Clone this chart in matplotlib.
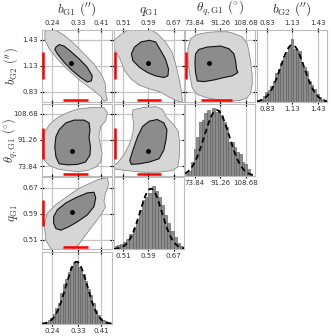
import numpy as np
import matplotlib
matplotlib.use('Agg')
import matplotlib.pyplot as plt
import matplotlib.transforms as mtransforms
from matplotlib.patches import Polygon

plt.rcParams['mathtext.fontset'] = 'cm'
plt.rcParams['font.family'] = 'DejaVu Sans'

# parameter axes: limits, ticks, tick labels, true-value ranges (red bars)
bg1_lim = (0.206, 0.447)
bg1_ticks = [0.24, 0.33, 0.41]
bg1_ticklabels = ['0.24', '0.33', '0.41']
bg1_range = [0.277, 0.365]

q_lim = (0.481, 0.703)
q_ticks = [0.51, 0.59, 0.67]
q_ticklabels = ['0.51', '0.59', '0.67']
q_range = [0.553, 0.631]

th_lim = (67.3, 115.1)
th_ticks = [73.84, 91.26, 108.68]
th_ticklabels = ['73.84', '91.26', '108.68']
th_range = [78.5, 99.2]

bg2_lim = (0.713, 1.54)
bg2_ticks = [0.83, 1.13, 1.43]
bg2_ticklabels = ['0.83', '1.13', '1.43']
bg2_range = [0.98, 1.29]

# histograms (first bin edge, bin width, heights), gaussian fit, y top
bg1_hist_lo, bg1_hist_w = 0.2094, 0.0085
bg1_hist = [3, 6, 12, 18, 30, 45, 60, 90, 115, 130, 150, 165, 180, 182,
            165, 155, 145, 125, 100, 85, 60, 40, 25, 17, 12, 8, 5, 2]
bg1_fit = (0.325, 0.037, 180)
bg1_htop = 208

q_hist_lo, q_hist_w = 0.48, 0.01
q_hist = [3, 4, 5, 7, 10, 15, 22, 30, 40, 50, 53, 58, 65, 60, 53, 45,
          35, 27, 18, 12, 6, 3]
q_fit = (0.598, 0.035, 62)
q_htop = 74

th_hist_lo, th_hist_w = 67.7, 1.82
th_hist = [8, 15, 40, 80, 115, 160, 165, 185, 195, 180, 200, 190, 195,
           180, 160, 145, 100, 100, 85, 70, 65, 40, 35, 20, 5]
th_fit = (89.0, 8.5, 195)
th_htop = 213

bg2_hist_lo, bg2_hist_w = 0.72, 0.03
bg2_hist = [5, 10, 18, 30, 35, 48, 62, 88, 100, 118, 140, 150, 165, 190,
            160, 158, 155, 120, 105, 92, 62, 52, 38, 24, 16, 9, 4]
bg2_fit = (1.13, 0.14, 172)
bg2_htop = 217

# 2D credible regions (outer = 95%, inner = 68%), best fit point
bg1_bg2_outer_x = [0.216, 0.231, 0.259, 0.282, 0.316, 0.351, 0.385, 0.413, 0.425,
                   0.425, 0.431, 0.419, 0.408, 0.379, 0.339, 0.299, 0.259, 0.231, 0.216]
bg1_bg2_outer_y = [1.52, 1.551, 1.527, 1.481, 1.383, 1.266, 1.149, 1.013, 0.916,
                   0.818, 0.733, 0.721, 0.779, 0.857, 0.955, 1.072, 1.208, 1.325, 1.422]
bg1_bg2_inner_x = [0.254, 0.265, 0.282, 0.305, 0.334, 0.362, 0.379, 0.376, 0.362,
                   0.339, 0.311, 0.282, 0.259, 0.250]
bg1_bg2_inner_y = [1.344, 1.372, 1.356, 1.294, 1.208, 1.111, 1.013, 0.955, 0.943,
                   0.994, 1.072, 1.169, 1.266, 1.317]
bg1_bg2_best = (0.307, 1.157)

q_bg2_outer_x = [0.481, 0.500, 0.525, 0.562, 0.593, 0.618, 0.644, 0.665, 0.675,
                 0.683, 0.691, 0.696, 0.698, 0.685, 0.660, 0.629, 0.593, 0.562,
                 0.536, 0.515, 0.500, 0.484, 0.481]
q_bg2_outer_y = [1.422, 1.481, 1.539, 1.566, 1.551, 1.500, 1.403, 1.286, 1.169,
                 1.052, 0.916, 0.799, 0.709, 0.721, 0.760, 0.826, 0.865, 0.904,
                 0.974, 1.072, 1.208, 1.305, 1.364]
q_bg2_inner_x = [0.536, 0.546, 0.567, 0.593, 0.613, 0.629, 0.644, 0.654, 0.652,
                 0.639, 0.613, 0.587, 0.562, 0.541]
q_bg2_inner_y = [1.266, 1.344, 1.403, 1.422, 1.403, 1.305, 1.208, 1.091, 1.013,
                 0.994, 1.013, 1.052, 1.111, 1.188]
q_bg2_best = (0.590, 1.157)

th_bg2_outer_x = [71.1, 75.7, 82.5, 89.3, 96.2, 100.7, 106.4, 109.8, 111.0, 112.1,
                  112.6, 113.2, 113.2, 112.1, 109.8, 105.3, 98.4, 91.6, 82.5, 75.7,
                  72.2, 71.1, 70.0, 69.3, 69.3]
th_bg2_outer_y = [1.442, 1.488, 1.512, 1.52, 1.52, 1.500, 1.461, 1.383, 1.286, 1.188,
                  1.111, 1.013, 0.916, 0.818, 0.760, 0.733, 0.721, 0.733, 0.760, 0.799,
                  0.877, 0.974, 1.091, 1.208, 1.325]
th_bg2_inner_x = [74.1, 74.5, 76.8, 82.5, 91.6, 97.3, 100.7, 101.8, 102.5, 103.4,
                  99.6, 93.9, 87.0, 80.2, 75.7, 74.5]
th_bg2_inner_y = [1.169, 1.266, 1.317, 1.344, 1.356, 1.325, 1.266, 1.188, 1.091, 1.052,
                  1.013, 0.994, 0.966, 0.947, 0.955, 1.052]
th_bg2_best = (83.6, 1.157)

bg1_th_outer_x = [0.208, 0.214, 0.231, 0.259, 0.294, 0.328, 0.373, 0.419, 0.431,
                  0.425, 0.408, 0.402, 0.408, 0.413, 0.408, 0.391, 0.362, 0.328,
                  0.294, 0.259, 0.231, 0.214, 0.208]
bg1_th_outer_y = [89.0, 95.8, 101.4, 106.0, 109.4, 111.6, 112.7, 112.7, 109.4,
                  103.7, 100.3, 93.5, 86.7, 82.2, 76.6, 73.2, 70.9, 70.2,
                  70.9, 72.0, 74.3, 77.7, 83.3]
bg1_th_inner_x = [0.250, 0.254, 0.265, 0.288, 0.316, 0.351, 0.368, 0.371, 0.368,
                  0.373, 0.371, 0.356, 0.328, 0.294, 0.265, 0.254]
bg1_th_inner_y = [86.7, 93.5, 98.0, 102.6, 104.4, 104.4, 102.6, 98.0, 92.4,
                  86.7, 81.1, 76.6, 75.0, 74.7, 75.4, 80.0]
bg1_th_best = (0.308, 83.8)

q_th_outer_x = [0.541, 0.572, 0.613, 0.634, 0.649, 0.670, 0.685, 0.689, 0.688,
                0.683, 0.665, 0.624, 0.572, 0.520, 0.484, 0.481, 0.495, 0.515,
                0.531, 0.541, 0.543, 0.539]
q_th_outer_y = [111.2, 112.7, 113.4, 111.6, 106.0, 101.4, 96.9, 89.0, 79.9,
                73.2, 70.9, 69.8, 69.8, 70.9, 72.0, 74.3, 76.6, 82.2,
                89.0, 95.8, 102.6, 108.2]
q_th_inner_x = [0.556, 0.572, 0.593, 0.618, 0.639, 0.649, 0.646, 0.639, 0.624,
                0.593, 0.562, 0.536, 0.531, 0.541]
q_th_inner_y = [93.5, 100.3, 103.7, 104.8, 102.6, 98.0, 91.3, 84.5, 78.8,
                76.6, 75.4, 75.0, 77.7, 84.5]
q_th_best = (0.590, 83.8)

bg1_q_outer_x = [0.237, 0.219, 0.214, 0.225, 0.254, 0.294, 0.328, 0.362, 0.396,
                 0.431, 0.436, 0.425, 0.419, 0.425, 0.413, 0.396, 0.373, 0.351,
                 0.334, 0.316, 0.299, 0.288, 0.277, 0.248]
bg1_q_outer_y = [0.482, 0.508, 0.560, 0.592, 0.618, 0.644, 0.665, 0.680, 0.694,
                 0.701, 0.680, 0.654, 0.628, 0.612, 0.592, 0.571, 0.544, 0.518,
                 0.497, 0.482, 0.487, 0.487, 0.479, 0.477]
bg1_q_inner_x = [0.246, 0.259, 0.288, 0.322, 0.362, 0.385, 0.391, 0.385, 0.362,
                 0.328, 0.299, 0.271, 0.254, 0.246]
bg1_q_inner_y = [0.581, 0.602, 0.623, 0.639, 0.654, 0.656, 0.639, 0.612, 0.586,
                 0.565, 0.550, 0.539, 0.544, 0.560]
bg1_q_best = (0.308, 0.594)

labels = {
    'bg1': r'$b_{\rm G1}\ (^{\prime\prime})$',
    'q': r'$q_{\rm G1}$',
    'th': r'$\theta_{q,{\rm G1}}\ (^{\circ})$',
    'bg2': r'$b_{\rm G2}\ (^{\prime\prime})$',
}
axinfo = {
    'bg1': (bg1_lim, bg1_ticks, bg1_ticklabels, bg1_range),
    'q': (q_lim, q_ticks, q_ticklabels, q_range),
    'th': (th_lim, th_ticks, th_ticklabels, th_range),
    'bg2': (bg2_lim, bg2_ticks, bg2_ticklabels, bg2_range),
}
hists = {
    'bg1': (bg1_hist_lo, bg1_hist_w, bg1_hist, bg1_fit, bg1_htop),
    'q': (q_hist_lo, q_hist_w, q_hist, q_fit, q_htop),
    'th': (th_hist_lo, th_hist_w, th_hist, th_fit, th_htop),
    'bg2': (bg2_hist_lo, bg2_hist_w, bg2_hist, bg2_fit, bg2_htop),
}
contours = {
    (0, 0): (bg1_bg2_outer_x, bg1_bg2_outer_y, bg1_bg2_inner_x, bg1_bg2_inner_y, bg1_bg2_best),
    (0, 1): (q_bg2_outer_x, q_bg2_outer_y, q_bg2_inner_x, q_bg2_inner_y, q_bg2_best),
    (0, 2): (th_bg2_outer_x, th_bg2_outer_y, th_bg2_inner_x, th_bg2_inner_y, th_bg2_best),
    (1, 0): (bg1_th_outer_x, bg1_th_outer_y, bg1_th_inner_x, bg1_th_inner_y, bg1_th_best),
    (1, 1): (q_th_outer_x, q_th_outer_y, q_th_inner_x, q_th_inner_y, q_th_best),
    (2, 0): (bg1_q_outer_x, bg1_q_outer_y, bg1_q_inner_x, bg1_q_inner_y, bg1_q_best),
}
cols = ['bg1', 'q', 'th', 'bg2']
rows = ['bg2', 'th', 'q', 'bg1']

W, H = 331, 336
fig = plt.figure(figsize=(W / 100, H / 100), dpi=100)
col_left = [42, 114, 185, 257]
row_top = [30, 104, 177, 252]
aw, ah = 70, 72

text_col = '#333333'
spine_col = '#bbbbbb'
grid_col = '#c4c4c4'


def style_ax(ax):
    for s in ax.spines.values():
        s.set_color(spine_col)
        s.set_linewidth(0.8)
    ax.tick_params(direction='inout', length=3, width=0.8, color='k',
                   labelsize=5, labelcolor=text_col, pad=1.5,
                   top=True, bottom=True, left=True, right=True,
                   labeltop=False, labelbottom=False, labelleft=False, labelright=False)


for r in range(4):
    for c in range(4 - r):
        ax = fig.add_axes([col_left[c] / W, 1 - (row_top[r] + ah) / H, aw / W, ah / H])
        style_ax(ax)
        px = cols[c]
        xlim, xt, xtl, xr = axinfo[px]
        ax.set_xlim(xlim)
        ax.set_xticks(xt)
        ax.set_xticklabels(xtl)
        if r + c == 3:
            lo, w, heights, fit, htop = hists[px]
            edges = lo + w * np.arange(len(heights) + 1)
            ax.hist(edges[:-1] + w / 2, bins=edges, weights=heights,
                    color='#8c8c8c', edgecolor='#555555', linewidth=0.4, zorder=2)
            mu, sd, pk = fit
            xs = np.linspace(xlim[0], xlim[1], 200)
            ax.plot(xs, pk * np.exp(-0.5 * ((xs - mu) / sd) ** 2), color='k',
                    lw=1.3, ls=(0, (3, 2)), zorder=3)
            ax.set_ylim(0, htop)
            ax.set_yticks([])
            ax.tick_params(left=False, right=False, labelbottom=True)
            ax.xaxis.grid(True, color=grid_col, lw=0.9)
            ax.set_axisbelow(True)
        else:
            py = rows[r]
            ylim, yt, ytl, yr = axinfo[py]
            ax.set_ylim(ylim)
            ax.set_yticks(yt)
            ax.set_yticklabels(ytl)
            ax.grid(True, color=grid_col, lw=0.9)
            ax.set_axisbelow(True)
            ox, oy, ix, iy, best = contours[(r, c)]
            ax.add_patch(Polygon(np.column_stack([ox, oy]), closed=True, fc='#d6d6d6',
                                 ec='#8a8a8a', lw=0.6, joinstyle='round', zorder=2))
            ax.add_patch(Polygon(np.column_stack([ix, iy]), closed=True, fc='#8c8c8c',
                                 ec='#111111', lw=0.8, joinstyle='round', zorder=3))
            ax.plot(best[0], best[1], 'o', color='k', ms=2.5, zorder=4)
            tv = mtransforms.blended_transform_factory(ax.transAxes, ax.transData)
            ax.plot([0.02, 0.02], yr, color='red', lw=1.8, transform=tv,
                    solid_capstyle='butt', zorder=5, clip_on=False)
            th_ = mtransforms.blended_transform_factory(ax.transData, ax.transAxes)
            ax.plot(xr, [0.025, 0.025], color='red', lw=1.8, transform=th_,
                    solid_capstyle='butt', zorder=5, clip_on=False)
            if c == 0:
                ax.tick_params(labelleft=True)
                ax.set_ylabel(labels[py], fontsize=9, color=text_col)
                ax.yaxis.set_label_coords(-0.32, 0.5)
        if r == 0:
            ax.tick_params(labeltop=True)
            ax.xaxis.set_label_position('top')
            ax.set_xlabel(labels[px], fontsize=9.5, color=text_col)
            ax.xaxis.set_label_coords(0.5, 1.16)
            ax.xaxis.label.set_verticalalignment('bottom')

fig.savefig('out.png', dpi=100)
